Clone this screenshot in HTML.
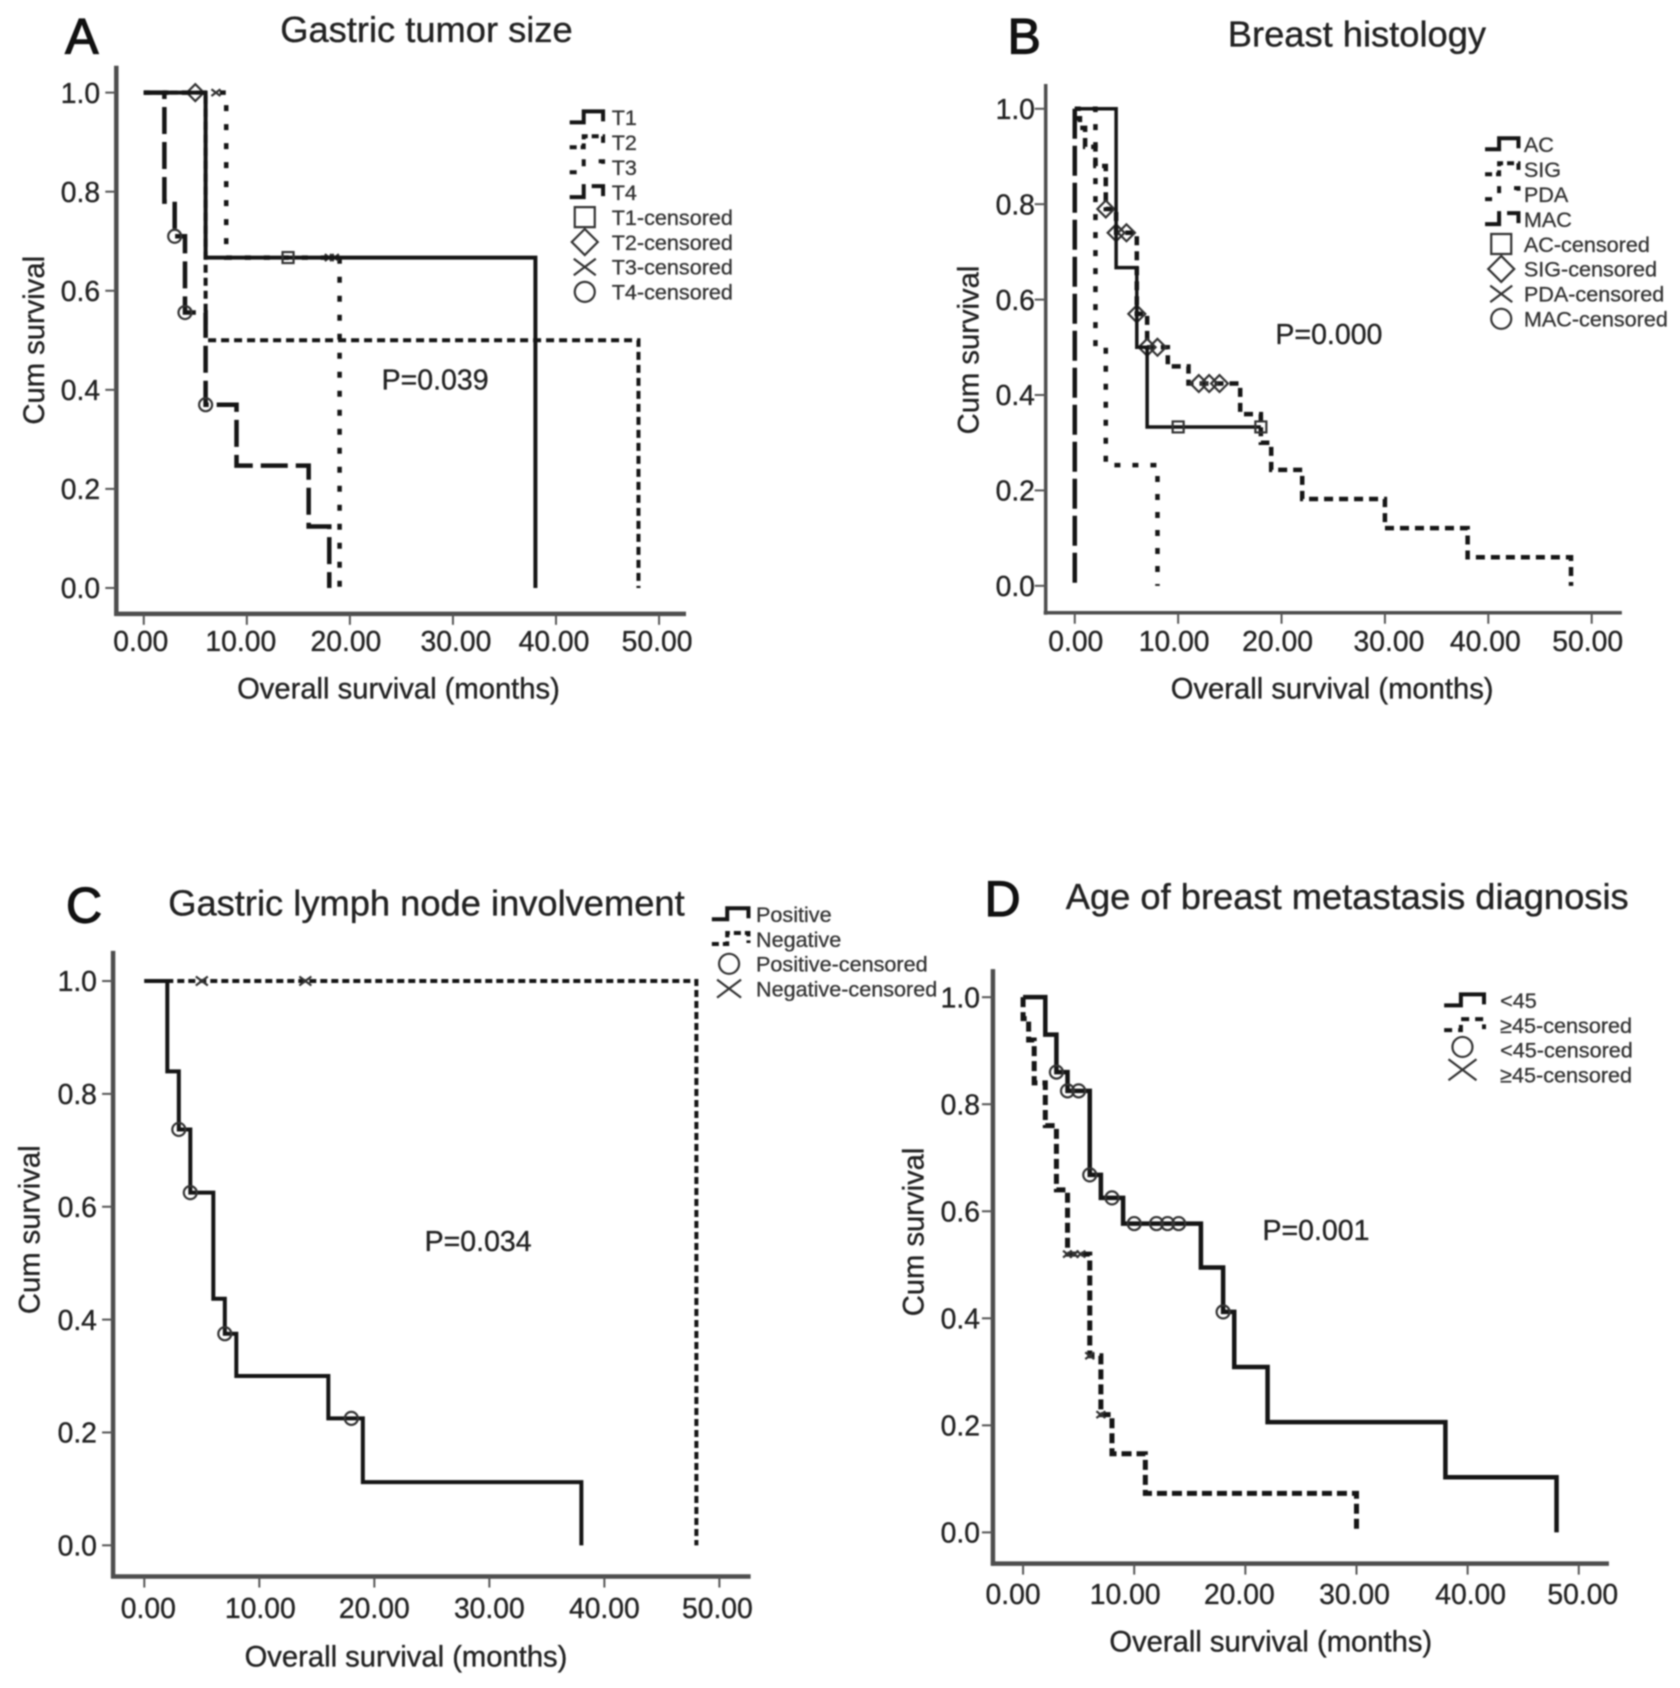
<!DOCTYPE html>
<html lang="en">
<head>
<meta charset="utf-8">
<title>Kaplan-Meier survival curves</title>
<style>
html,body{margin:0;padding:0;background:#fff;width:1680px;height:1688px;overflow:hidden}
svg{display:block;filter:blur(0.85px)}
text{font-family:"Liberation Sans",Arial,sans-serif;fill:#222;stroke:#222;stroke-width:0.35px}
</style>
</head>
<body>
<svg id="figure" xmlns="http://www.w3.org/2000/svg" width="1680" height="1688" viewBox="0 0 1680 1688"></svg>
<script>
// ---- Shared tick labels
const xTickValues = [0, 10, 20, 30, 40, 50];
const yTickValues = [0, 0.2, 0.4, 0.6, 0.8, 1.0];
const xTickLabels = ['0.00', '10.00', '20.00', '30.00', '40.00', '50.00'];
const yTickLabels = ['0.0', '0.2', '0.4', '0.6', '0.8', '1.0'];

// ---- Panel A: gastric tumor size
const aT1Times = [0, 6, 38];
const aT1Surv = [1, 0.667, 0];
const aT1CensorTimes = [14];
const aT1CensorSurv = [0.667];
const aT2Times = [0, 6, 48];
const aT2Surv = [1, 0.5, 0];
const aT2CensorTimes = [5];
const aT2CensorSurv = [1];
const aT3Times = [0, 8, 19];
const aT3Surv = [1, 0.667, 0];
const aT3CensorTimes = [7, 18, 18.5];
const aT3CensorSurv = [1, 0.667, 0.667];
const aT4Times = [0, 2, 3, 4, 6, 9, 16, 18];
const aT4Surv = [1, 0.78, 0.71, 0.556, 0.37, 0.247, 0.124, 0];
const aT4CensorTimes = [3, 4, 6];
const aT4CensorSurv = [0.71, 0.556, 0.37];

// ---- Panel B: breast histology
const bAcTimes = [0, 4, 6, 7, 18];
const bAcSurv = [1, 0.667, 0.5, 0.333, 0.333];
const bAcCensorTimes = [10, 18];
const bAcCensorSurv = [0.333, 0.333];
const bSigTimes = [0, 0.5, 1, 2, 3, 4, 6, 7, 9, 11, 16, 18, 19, 22, 30, 38, 48];
const bSigSurv = [0.98, 0.96, 0.92, 0.88, 0.79, 0.74, 0.57, 0.5, 0.46, 0.424, 0.36, 0.3, 0.243, 0.182, 0.121, 0.06, 0];
const bSigCensorTimes = [3, 4, 5, 6, 7, 8, 12, 13, 14];
const bSigCensorSurv = [0.79, 0.74, 0.74, 0.57, 0.5, 0.5, 0.424, 0.424, 0.424];
const bPdaTimes = [0, 2, 3, 8];
const bPdaSurv = [1, 0.5, 0.253, 0];
const bMacTimes = [0, 0];
const bMacSurv = [1, 0];

// ---- Panel C: gastric lymph node involvement
const cPosTimes = [0, 2, 3, 4, 6, 7, 8, 16, 19, 38];
const cPosSurv = [1, 0.84, 0.737, 0.625, 0.437, 0.375, 0.3, 0.225, 0.112, 0];
const cPosCensorTimes = [3, 4, 7, 18];
const cPosCensorSurv = [0.737, 0.625, 0.375, 0.225];
const cNegTimes = [0, 48];
const cNegSurv = [1, 0];
const cNegCensorTimes = [5, 14];
const cNegCensorSurv = [1, 1];

// ---- Panel D: age of breast metastasis diagnosis
const dYoungTimes = [0, 2, 3, 4, 6, 7, 9, 16, 18, 19, 22, 38, 48];
const dYoungSurv = [1, 0.93, 0.86, 0.825, 0.668, 0.625, 0.577, 0.495, 0.412, 0.309, 0.206, 0.103, 0];
const dYoungCensorTimes = [3, 4, 5, 6, 8, 10, 12, 13, 14, 18];
const dYoungCensorSurv = [0.86, 0.825, 0.825, 0.668, 0.625, 0.577, 0.577, 0.577, 0.577, 0.412];
const dOldTimes = [0, 0, 0.5, 1, 2, 3, 4, 6, 7, 8, 11, 30];
const dOldSurv = [1, 0.96, 0.92, 0.84, 0.76, 0.64, 0.52, 0.33, 0.22, 0.147, 0.073, 0];
const dOldCensorTimes = [4, 4.6, 5.2, 6, 7];
const dOldCensorSurv = [0.52, 0.52, 0.52, 0.33, 0.22];

const NS = 'http://www.w3.org/2000/svg';
const svg = document.getElementById('figure');
// layout is expressed in preview units, then scaled to page pixels
const SX = 1680 / 1560;
const SY = 1688 / 1567.5;

function make(tag, name, parent) {
  const el = document.createElementNS(NS, tag);
  
  
  (parent || svg).appendChild(el);
  return el;
}

function label(parent, name, str, x, yc, size, anchor, opts) {
  const t = make('text', name, parent);
  t.textContent = str;
  t.setAttribute('x', x);
  t.setAttribute('y', yc + size * 0.36);
  t.setAttribute('font-size', size);
  t.setAttribute('text-anchor', anchor || 'middle');
  if (opts && opts.fill) {
    t.style.fill = opts.fill;
    t.style.stroke = opts.fill;
  }
  if (opts && opts.weight) t.style.strokeWidth = opts.weight + 'px';
  if (opts && opts.rotate) t.setAttribute('transform', 'rotate(-90 ' + x + ' ' + yc + ')');
  return t;
}

function stepPath(times, surv, xs, ys) {
  let d = 'M' + xs(times[0]) + ' ' + ys(surv[0]);
  for (let i = 1; i < times.length; i++) {
    d += ' H' + xs(times[i]) + ' V' + ys(surv[i]);
  }
  return d;
}

function markerPath(kind, cx, cy, r) {
  if (kind === 'square') return 'M' + (cx - r) + ' ' + (cy - r) + 'h' + 2 * r + 'v' + 2 * r + 'h' + (-2 * r) + 'z';
  if (kind === 'diamond') return 'M' + cx + ' ' + (cy - r * 1.3) + 'L' + (cx + r * 1.3) + ' ' + cy + 'L' + cx + ' ' + (cy + r * 1.3) + 'L' + (cx - r * 1.3) + ' ' + cy + 'z';
  if (kind === 'x') return 'M' + (cx - r) + ' ' + (cy - r * 0.75) + 'L' + (cx + r) + ' ' + (cy + r * 0.75) + 'M' + (cx - r) + ' ' + (cy + r * 0.75) + 'L' + (cx + r) + ' ' + (cy - r * 0.75);
  return 'M' + (cx - r) + ' ' + cy + 'a' + r + ' ' + r + ' 0 1 0 ' + 2 * r + ' 0a' + r + ' ' + r + ' 0 1 0 ' + (-2 * r) + ' 0z';
}

function drawMarker(parent, name, kind, cx, cy, r, width) {
  const m = make('path', name, parent);
  m.setAttribute('d', markerPath(kind, cx, cy, r));
  m.setAttribute('fill', 'none');
  m.setAttribute('stroke', '#333');
  m.setAttribute('stroke-width', width);
}

function drawPanel(p) {
  const g = make('g', 'panel-' + p.id);
  const x0 = p.x0 * SX, x50 = p.x50 * SX, y1 = p.y1 * SY, y0 = p.y0 * SY;
  const xs = v => x0 + (x50 - x0) * v / 50;
  const ys = v => y0 + (y1 - y0) * v;
  const left = p.left * SX, right = p.right * SX, top = p.top * SY, bottom = p.bottom * SY;

  label(g, 'panel-letter', p.id.toUpperCase(), p.letter[0] * SX, p.letter[1] * SY, 50, 'middle', {fill: '#111', weight: 1.2});
  label(g, 'chart-title', p.title, p.titlePos[0] * SX, p.titlePos[1] * SY, 36.3);

  const yAxis = make('line', 'y-axis', g);
  yAxis.setAttribute('x1', left); yAxis.setAttribute('x2', left);
  yAxis.setAttribute('y1', top); yAxis.setAttribute('y2', bottom + 2);
  yAxis.setAttribute('stroke', '#4d4d4d'); yAxis.setAttribute('stroke-width', p.axisW);
  const xAxis = make('line', 'x-axis', g);
  xAxis.setAttribute('x1', left - 2); xAxis.setAttribute('x2', right);
  xAxis.setAttribute('y1', bottom); xAxis.setAttribute('y2', bottom);
  xAxis.setAttribute('stroke', '#4d4d4d'); xAxis.setAttribute('stroke-width', p.axisW);

  xTickValues.forEach((v, i) => {
    const t = make('line', 'x-tick-' + xTickLabels[i], g);
    t.setAttribute('x1', xs(v)); t.setAttribute('x2', xs(v));
    t.setAttribute('y1', bottom); t.setAttribute('y2', bottom + 11);
    t.setAttribute('stroke', '#555'); t.setAttribute('stroke-width', 2);
    label(g, 'x-tick-label-' + xTickLabels[i], xTickLabels[i], xs(v) + p.xLabelNudge[i], p.xLabelY * SY, 28.3);
  });
  yTickValues.forEach((v, i) => {
    const t = make('line', 'y-tick-' + yTickLabels[i], g);
    t.setAttribute('x1', left - 11); t.setAttribute('x2', left);
    t.setAttribute('y1', ys(v)); t.setAttribute('y2', ys(v));
    t.setAttribute('stroke', '#555'); t.setAttribute('stroke-width', 2);
    label(g, 'y-tick-label-' + yTickLabels[i], yTickLabels[i], p.yLabelRight * SX, ys(v), 28.3, 'end');
  });

  label(g, 'x-axis-title', 'Overall survival (months)', p.xTitle[0] * SX, p.xTitle[1] * SY, 29.2);
  label(g, 'y-axis-title', 'Cum survival', p.yTitle[0] * SX, p.yTitle[1] * SY, 29.2, 'middle', {rotate: true});
  label(g, 'p-value', p.pText, p.pPos[0] * SX, p.pPos[1] * SY, 28.5);

  p.series.forEach(s => {
    const line = make('path', 'curve-' + s.name, g);
    line.setAttribute('d', stepPath(s.times, s.surv, xs, ys));
    line.setAttribute('fill', 'none');
    line.setAttribute('stroke', '#151515');
    line.setAttribute('stroke-width', s.width);
    if (s.dash) line.setAttribute('stroke-dasharray', s.dash);
    if (s.cTimes) {
      s.cTimes.forEach((t, i) => {
        drawMarker(g, 'censor-' + s.name + '-' + i, s.marker, xs(t), ys(s.cSurv[i]), s.markerR || 6.5, 2.2);
      });
    }
  });

  p.legend.forEach((row, i) => {
    const yc = (p.legendY + i * p.legendStep) * SY;
    label(g, 'legend-label-' + i, row.text, p.legendText * SX, yc, 21.6, 'start', {fill: '#333', weight: 0.3});
    if (row.dash !== undefined) {
      const ix = p.legendIcon[0] * SX, ix2 = p.legendIcon[1] * SX;
      const w = ix2 - ix;
      const ic = make('path', 'legend-line-' + i, g);
      ic.setAttribute('d', 'M' + ix + ' ' + (yc + 5) + 'h' + w * 0.42 + 'v-11h' + w * 0.58 + 'v10');
      ic.setAttribute('fill', 'none');
      ic.setAttribute('stroke', '#151515');
      ic.setAttribute('stroke-width', 4);
      if (row.dash) ic.setAttribute('stroke-dasharray', row.dash);
    } else {
      drawMarker(g, 'legend-marker-' + i, row.marker, p.legendMarker * SX, yc + (row.dy || 0), row.r || 10, 2.2);
    }
  });
}

drawPanel({
  id: 'a', title: 'Gastric tumor size', titlePos: [396, 27], letter: [76, 33],
  x0: 133.5, x50: 612, y1: 86, y0: 546, left: 108, right: 637, top: 61, bottom: 570, axisW: 4.5,
  xLabelNudge: [-3, -6, -4, 3, -2, -2], xLabelY: 595, yLabelRight: 93, xTitle: [370, 639], yTitle: [31, 316],
  pText: 'P=0.039', pPos: [404, 352],
  series: [
    {name: 't3', times: aT3Times, surv: aT3Surv, width: 4.5, dash: '6 13', cTimes: aT3CensorTimes, cSurv: aT3CensorSurv, marker: 'x', markerR: 4.5},
    {name: 't2', times: aT2Times, surv: aT2Surv, width: 4, dash: '8 5', cTimes: aT2CensorTimes, cSurv: aT2CensorSurv, marker: 'diamond'},
    {name: 't1', times: aT1Times, surv: aT1Surv, width: 4, cTimes: aT1CensorTimes, cSurv: aT1CensorSurv, marker: 'square', markerR: 5.5},
    {name: 't4', times: aT4Times, surv: aT4Surv, width: 4.5, dash: '27 8', cTimes: aT4CensorTimes, cSurv: aT4CensorSurv, marker: 'circle'}
  ],
  legendY: 109, legendStep: 23.15, legendText: 568, legendIcon: [529, 560], legendMarker: 543,
  legend: [
    {text: 'T1', dash: ''}, {text: 'T2', dash: '7 4'}, {text: 'T3', dash: '7 13'}, {text: 'T4', dash: '27 6'},
    {text: 'T1-censored', marker: 'square'}, {text: 'T2-censored', marker: 'diamond'},
    {text: 'T3-censored', marker: 'x', r: 11}, {text: 'T4-censored', marker: 'circle'}
  ]
});

drawPanel({
  id: 'b', title: 'Breast histology', titlePos: [1260, 31], letter: [951, 33],
  x0: 998, x50: 1478, y1: 101, y0: 544, left: 971, right: 1506, top: 78, bottom: 569, axisW: 3.5,
  xLabelNudge: [1, -4, -4, 4, -3, -4], xLabelY: 595, yLabelRight: 961, xTitle: [1237, 639], yTitle: [899, 325],
  pText: 'P=0.000', pPos: [1234, 310],
  series: [
    {name: 'pda', times: bPdaTimes, surv: bPdaSurv, width: 4.5, dash: '6 12'},
    {name: 'sig', times: bSigTimes, surv: bSigSurv, width: 4.5, dash: '9 6', cTimes: bSigCensorTimes, cSurv: bSigCensorSurv, marker: 'diamond'},
    {name: 'ac', times: bAcTimes, surv: bAcSurv, width: 3.5, cTimes: bAcCensorTimes, cSurv: bAcCensorSurv, marker: 'square', markerR: 5.5},
    {name: 'mac', times: bMacTimes, surv: bMacSurv, width: 4.5, dash: '30 7'}
  ],
  legendY: 134, legendStep: 23.15, legendText: 1415, legendIcon: [1379, 1410], legendMarker: 1394,
  legend: [
    {text: 'AC', dash: ''}, {text: 'SIG', dash: '7 4'}, {text: 'PDA', dash: '7 13'}, {text: 'MAC', dash: '27 6'},
    {text: 'AC-censored', marker: 'square'}, {text: 'SIG-censored', marker: 'diamond'},
    {text: 'PDA-censored', marker: 'x', r: 11}, {text: 'MAC-censored', marker: 'circle'}
  ]
});

drawPanel({
  id: 'c', title: 'Gastric lymph node involvement', titlePos: [396, 838], letter: [78, 840],
  x0: 134, x50: 668, y1: 911, y0: 1435, left: 105, right: 697, top: 883, bottom: 1464, axisW: 4.5,
  xLabelNudge: [4, 1, 0, 0, 0, -2], xLabelY: 1493, yLabelRight: 90, xTitle: [377, 1538], yTitle: [27, 1142],
  pText: 'P=0.034', pPos: [444, 1152],
  series: [
    {name: 'positive', times: cPosTimes, surv: cPosSurv, width: 4, cTimes: cPosCensorTimes, cSurv: cPosCensorSurv, marker: 'circle'},
    {name: 'negative', times: cNegTimes, surv: cNegSurv, width: 4, dash: '7 4', cTimes: cNegCensorTimes, cSurv: cNegCensorSurv, marker: 'x', markerR: 6}
  ],
  legendY: 849, legendStep: 23, legendText: 702, legendIcon: [661, 695], legendMarker: 677,
  legend: [
    {text: 'Positive', dash: ''}, {text: 'Negative', dash: '7 4'},
    {text: 'Positive-censored', marker: 'circle'}, {text: 'Negative-censored', marker: 'x', r: 12}
  ]
});

drawPanel({
  id: 'd', title: 'Age of breast metastasis diagnosis', titlePos: [1251, 832], letter: [931, 834],
  x0: 950, x50: 1466, y1: 926, y0: 1423, left: 922, right: 1494, top: 900, bottom: 1452, axisW: 4.5,
  xLabelNudge: [-10, -9, -6, -2, 3, 4], xLabelY: 1480, yLabelRight: 910, xTitle: [1180, 1524], yTitle: [848, 1144],
  pText: 'P=0.001', pPos: [1222, 1142],
  series: [
    {name: 'under-45', times: dYoungTimes, surv: dYoungSurv, width: 4.5, cTimes: dYoungCensorTimes, cSurv: dYoungCensorSurv, marker: 'circle'},
    {name: 'over-45', times: dOldTimes, surv: dOldSurv, width: 5, dash: '10 5', cTimes: dOldCensorTimes, cSurv: dOldCensorSurv, marker: 'x', markerR: 4.5}
  ],
  legendY: 929, legendStep: 23, legendText: 1393, legendIcon: [1341, 1378], legendMarker: 1358,
  legend: [
    {text: '<45', dash: ''}, {text: '\u226545-censored', dash: '8 6'},
    {text: '<45-censored', marker: 'circle', dy: -3}, {text: '\u226545-censored', marker: 'x', r: 14, dy: -5}
  ]
});
</script>
</body>
</html>
